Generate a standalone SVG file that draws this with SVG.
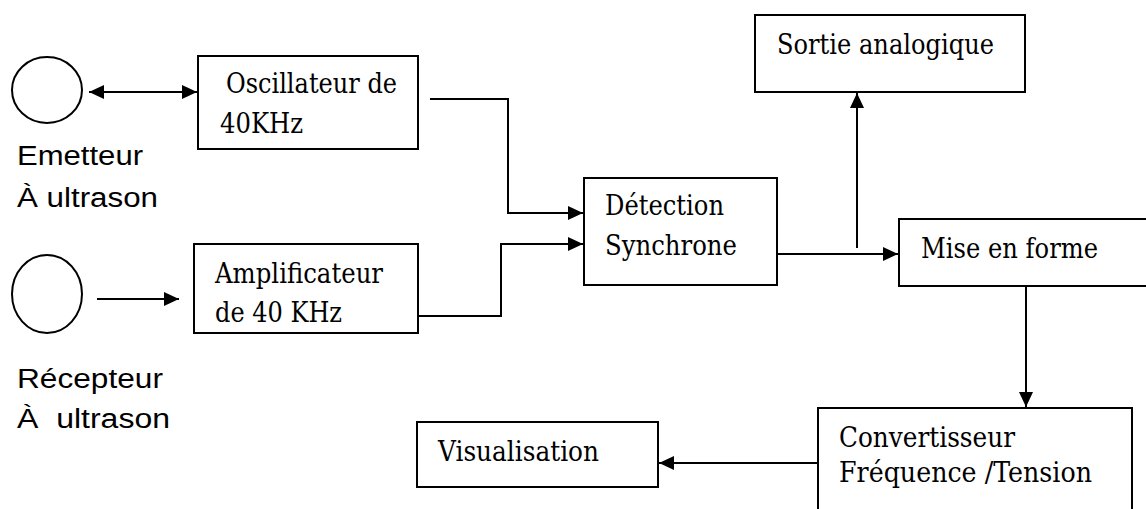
<svg xmlns="http://www.w3.org/2000/svg" width="1146" height="509" viewBox="0 0 1146 509">
<style>
.box{fill:#fff;stroke:#000;stroke-width:2}
.t{font-family:"DejaVu Serif","Liberation Serif",serif;font-size:27px;fill:#000}
.s{font-family:"Liberation Sans",Arial,sans-serif;font-size:27px;fill:#000}
.c{fill:none;stroke:#000;stroke-width:2}
</style>
<defs>
<marker id="ah" markerUnits="userSpaceOnUse" markerWidth="16" markerHeight="14" refX="15" refY="7" orient="auto-start-reverse">
<path d="M0,0 L15,7 L0,14 Z" fill="#000"/>
</marker>
</defs>
<rect width="1146" height="509" fill="#fff"/>
<g id="connectors">
<line class="c" x1="89" y1="92" x2="197" y2="92" marker-start="url(#ah)" marker-end="url(#ah)"/>
<line class="c" x1="97" y1="299" x2="179" y2="299" marker-end="url(#ah)"/>
<polyline class="c" points="430,99 508,99 508,213 583,213" marker-end="url(#ah)"/>
<polyline class="c" points="418,316 501,316 501,244 583,244" marker-end="url(#ah)"/>
<line class="c" x1="773" y1="254" x2="898" y2="254" marker-end="url(#ah)"/>
<line class="c" x1="857" y1="248" x2="857" y2="93" marker-end="url(#ah)"/>
<line class="c" x1="1026" y1="286" x2="1026" y2="407" marker-end="url(#ah)"/>
<line class="c" x1="818" y1="463" x2="659" y2="463" marker-end="url(#ah)"/>
</g>
<g id="emetteur">
<ellipse class="box" cx="47" cy="90" rx="35" ry="33"/>
<text class="s" x="17" y="165" textLength="126" lengthAdjust="spacingAndGlyphs">Emetteur</text>
<text class="s" x="17" y="207" textLength="141" lengthAdjust="spacingAndGlyphs">À ultrason</text>
</g>
<g id="recepteur">
<ellipse class="box" cx="47" cy="294" rx="35" ry="39"/>
<text class="s" x="17" y="388" textLength="146" lengthAdjust="spacingAndGlyphs">Récepteur</text>
<text class="s" x="17" y="428" textLength="153" lengthAdjust="spacingAndGlyphs" xml:space="preserve">À  ultrason</text>
</g>
<g id="oscillateur">
<rect class="box" x="198" y="56" width="220" height="93"/>
<text class="t" x="226" y="93" textLength="171" lengthAdjust="spacingAndGlyphs">Oscillateur de</text>
<text class="t" x="220" y="133" textLength="83" lengthAdjust="spacingAndGlyphs">40KHz</text>
</g>
<g id="amplificateur">
<rect class="box" x="194" y="244" width="224" height="89"/>
<text class="t" x="215" y="283" textLength="168" lengthAdjust="spacingAndGlyphs">Amplificateur</text>
<text class="t" x="215" y="322" textLength="127" lengthAdjust="spacingAndGlyphs">de 40 KHz</text>
</g>
<g id="detection">
<rect class="box" x="584" y="178" width="193" height="107"/>
<text class="t" x="605" y="215" textLength="119" lengthAdjust="spacingAndGlyphs">Détection</text>
<text class="t" x="605" y="255" textLength="132" lengthAdjust="spacingAndGlyphs">Synchrone</text>
</g>
<g id="sortie">
<rect class="box" x="755" y="15" width="270" height="77"/>
<text class="t" x="777" y="54" textLength="217" lengthAdjust="spacingAndGlyphs">Sortie analogique</text>
</g>
<g id="mise-en-forme">
<rect class="box" x="899" y="219" width="260" height="67"/>
<text class="t" x="921" y="258" textLength="177" lengthAdjust="spacingAndGlyphs">Mise en forme</text>
</g>
<g id="convertisseur">
<rect class="box" x="818" y="408" width="314" height="120"/>
<text class="t" x="839" y="447" textLength="176" lengthAdjust="spacingAndGlyphs">Convertisseur</text>
<text class="t" x="839" y="482" textLength="253" lengthAdjust="spacingAndGlyphs">Fréquence /Tension</text>
</g>
<g id="visualisation">
<rect class="box" x="417" y="422" width="241" height="65"/>
<text class="t" x="438" y="461" textLength="161" lengthAdjust="spacingAndGlyphs">Visualisation</text>
</g>
</svg>
